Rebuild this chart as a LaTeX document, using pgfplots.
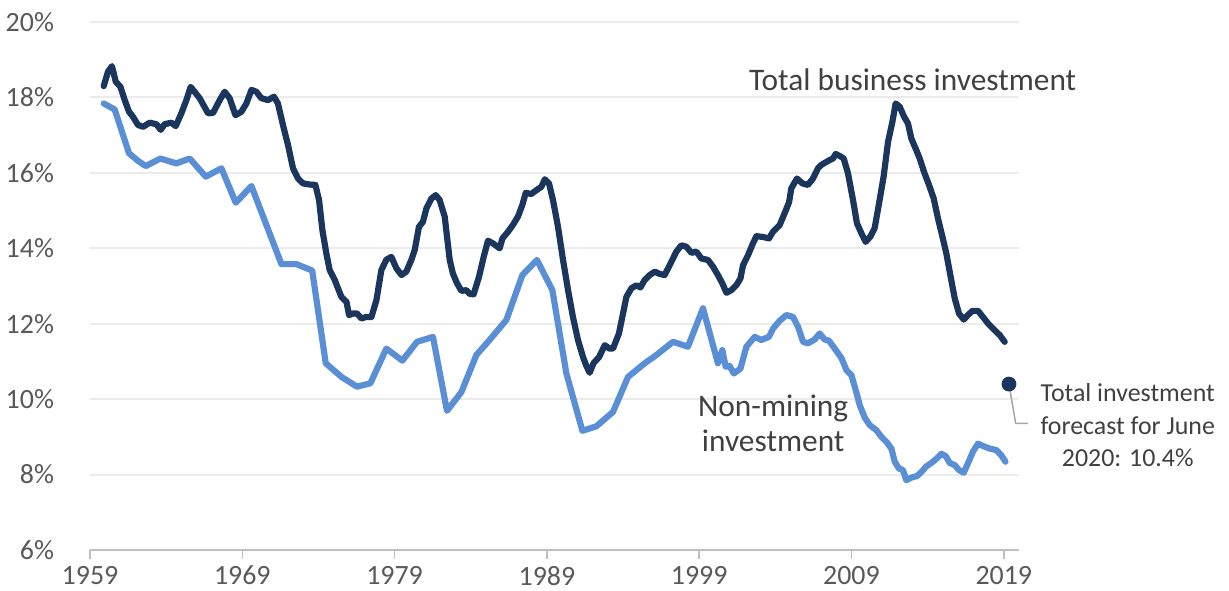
\documentclass[border=0pt]{standalone}
\usepackage{pgfplots}
\pgfplotsset{compat=1.18}
\usepackage{fontspec}
\setmainfont{Carlito}
\definecolor{navy}{HTML}{1A365D}
\definecolor{lblue}{HTML}{5A8FD6}
\definecolor{tickgray}{HTML}{595959}
\definecolor{txtgray}{HTML}{404040}
\definecolor{gridgray}{HTML}{EBEBEB}
\definecolor{axgray}{HTML}{BFBFBF}
\definecolor{leadgray}{HTML}{A6A6A6}
\begin{document}
\begin{tikzpicture}
\useasboundingbox (0,0) rectangle (614.5bp,295.5bp);
\begin{axis}[
  at={(45bp,20.5bp)}, anchor=south west,
  scale only axis, width=464.5bp, height=264bp,
  xmin=1959, xmax=2020, ymin=6, ymax=20,
  axis x line*=bottom, axis y line*=left,
  y axis line style={draw=none},
  x axis line style={axgray, line width=1bp},
  ytick style={draw=none},
  xtick style={axgray, line width=0.75bp},
  tick align=outside, major tick length=4.5bp,
  xtick={1959,1969,1979,1989,1999,2009,2019},
  ytick={6,8,10,12,14,16,18,20},
  /pgf/number format/1000 sep={},
  /pgf/number format/assume math mode=true,
  yticklabel={\pgfmathprintnumber{\tick}\%},
  tick label style={font=\fontsize{14}{16}\selectfont, text=tickgray},
  yticklabel style={xshift=-10bp},
  ymajorgrids, major grid style={gridgray, line width=1bp},
  clip=false,
]
\addplot[lblue, line width=3.1bp, line join=round, line cap=round] coordinates {
(1959.90,17.84) (1960.62,17.68) (1961.06,17.14) (1961.56,16.52) (1962.15,16.32)
(1962.66,16.18) (1963.62,16.38) (1964.67,16.25) (1965.55,16.38) (1966.60,15.90)
(1967.63,16.12) (1968.57,15.21) (1969.60,15.65) (1970.58,14.62) (1971.57,13.58)
(1972.55,13.58) (1973.59,13.41) (1974.48,10.95) (1975.51,10.59) (1976.53,10.33)
(1977.41,10.42) (1978.46,11.34) (1979.51,11.02) (1980.47,11.52) (1981.52,11.65)
(1982.44,9.69) (1983.39,10.19) (1984.37,11.17) (1985.24,11.57) (1986.34,12.10)
(1987.39,13.29) (1988.35,13.69) (1989.36,12.89) (1990.28,10.68) (1991.33,9.16)
(1992.25,9.28) (1993.34,9.66) (1994.33,10.59) (1995.42,10.95) (1996.19,11.17)
(1997.28,11.52) (1998.26,11.39) (1999.25,12.41) (2000.23,10.95) (2000.52,11.30)
(2000.74,10.86) (2001.00,10.88) (2001.27,10.68) (2001.71,10.81) (2002.10,11.39)
(2002.64,11.65) (2003.08,11.57) (2003.58,11.65) (2003.85,11.87) (2004.29,12.08)
(2004.73,12.23) (2005.16,12.18) (2005.49,11.92) (2005.82,11.52) (2006.14,11.48)
(2006.58,11.58) (2006.91,11.74) (2007.24,11.58) (2007.52,11.55) (2007.90,11.34)
(2008.34,11.09) (2008.67,10.77) (2008.99,10.64) (2009.28,10.24) (2009.54,9.84)
(2009.87,9.51) (2010.20,9.31) (2010.63,9.18) (2010.96,9.00) (2011.29,8.87)
(2011.62,8.69) (2011.84,8.34) (2012.12,8.16) (2012.38,8.12) (2012.60,7.85)
(2012.93,7.92) (2013.30,7.96) (2013.59,8.07) (2013.92,8.22) (2014.25,8.31)
(2014.58,8.42) (2014.90,8.55) (2015.19,8.49) (2015.45,8.31) (2015.78,8.25)
(2016.06,8.12) (2016.37,8.05) (2016.65,8.30) (2016.98,8.61) (2017.31,8.82)
(2017.68,8.75) (2018.07,8.69) (2018.51,8.65) (2018.84,8.51) (2019.11,8.34)
};
\addplot[navy, line width=3.1bp, line join=round, line cap=round] coordinates {
(1959.90,18.30) (1960.18,18.68) (1960.44,18.83) (1960.69,18.42) (1961.00,18.28)
(1961.28,17.93) (1961.56,17.62) (1961.82,17.49) (1962.15,17.27) (1962.48,17.22)
(1962.92,17.33) (1963.36,17.29) (1963.64,17.14) (1963.90,17.29) (1964.34,17.33)
(1964.63,17.24) (1965.00,17.58) (1965.33,17.93) (1965.61,18.28) (1966.20,17.98)
(1966.75,17.58) (1967.08,17.59) (1967.52,17.93) (1967.84,18.15) (1968.17,17.98)
(1968.55,17.53) (1968.94,17.62) (1969.27,17.84) (1969.60,18.20) (1969.93,18.15)
(1970.25,17.98) (1970.69,17.93) (1971.08,18.02) (1971.34,17.84) (1971.67,17.27)
(1972.00,16.74) (1972.33,16.12) (1972.66,15.85) (1972.99,15.72) (1973.43,15.69)
(1973.80,15.68) (1974.04,15.28) (1974.26,14.48) (1974.52,13.86) (1974.74,13.42)
(1975.07,13.16) (1975.28,12.94) (1975.51,12.71) (1975.84,12.58) (1976.01,12.23)
(1976.27,12.27) (1976.53,12.27) (1976.82,12.14) (1977.15,12.18) (1977.48,12.18)
(1977.81,12.63) (1978.13,13.42) (1978.46,13.70) (1978.79,13.77) (1979.12,13.47)
(1979.45,13.29) (1979.77,13.38) (1980.10,13.69) (1980.32,13.95) (1980.60,14.57)
(1980.86,14.70) (1981.09,15.06) (1981.42,15.32) (1981.70,15.41) (1981.96,15.28)
(1982.29,14.84) (1982.62,13.69) (1982.83,13.33) (1983.10,13.07) (1983.39,12.87)
(1983.71,12.89) (1983.93,12.79) (1984.19,12.78) (1984.54,13.24) (1984.85,13.77)
(1985.13,14.20) (1985.46,14.13) (1985.90,14.00) (1986.08,14.26) (1986.45,14.44)
(1986.77,14.62) (1987.10,14.84) (1987.39,15.15) (1987.61,15.47) (1987.98,15.44)
(1988.31,15.54) (1988.64,15.63) (1988.86,15.83) (1989.14,15.72) (1989.40,15.28)
(1989.73,14.57) (1990.06,13.69) (1990.39,12.89) (1990.71,12.18) (1991.04,11.57)
(1991.37,11.12) (1991.59,10.88) (1991.81,10.70) (1992.07,10.96) (1992.42,11.11)
(1992.80,11.43) (1993.12,11.34) (1993.34,11.34) (1993.73,11.74) (1994.00,12.27)
(1994.22,12.71) (1994.55,12.94) (1994.88,13.02) (1995.14,12.96) (1995.42,13.16)
(1995.75,13.29) (1996.08,13.38) (1996.41,13.32) (1996.73,13.29) (1997.06,13.55)
(1997.50,13.91) (1997.83,14.08) (1998.16,14.04) (1998.49,13.88) (1998.82,13.91)
(1999.14,13.73) (1999.58,13.69) (1999.91,13.51) (2000.23,13.29) (2000.52,13.07)
(2000.79,12.82) (2001.11,12.89) (2001.44,13.02) (2001.71,13.20) (2001.88,13.55)
(2002.21,13.82) (2002.53,14.13) (2002.76,14.32) (2003.19,14.30) (2003.58,14.26)
(2003.85,14.44) (2004.29,14.62) (2004.61,14.93) (2004.90,15.22) (2005.05,15.59)
(2005.42,15.85) (2005.78,15.72) (2006.14,15.68) (2006.47,15.85) (2006.80,16.12)
(2007.02,16.21) (2007.35,16.29) (2007.57,16.34) (2007.79,16.38) (2007.96,16.50)
(2008.22,16.45) (2008.49,16.38) (2008.77,15.99) (2009.10,15.28) (2009.36,14.66)
(2009.65,14.40) (2009.93,14.17) (2010.24,14.31) (2010.52,14.53) (2010.81,15.19)
(2011.11,15.90) (2011.40,16.82) (2011.69,17.36) (2011.90,17.84) (2012.17,17.75)
(2012.45,17.49) (2012.71,17.31) (2012.93,16.91) (2013.26,16.60) (2013.48,16.38)
(2013.76,16.03) (2014.09,15.68) (2014.40,15.32) (2014.68,14.79) (2014.97,14.31)
(2015.23,13.86) (2015.49,13.29) (2015.78,12.67) (2016.06,12.27) (2016.37,12.11)
(2016.65,12.23) (2016.94,12.34) (2017.31,12.34) (2017.63,12.18) (2017.96,12.01)
(2018.40,11.83) (2018.73,11.70) (2019.06,11.52)
};
\draw[leadgray, line width=0.75bp] (axis cs:2019.34,10.40) -- (axis cs:2019.78,9.36) -- (axis cs:2020.59,9.36);
\addplot[only marks, mark=*, mark size=3.5bp, navy] coordinates {(2019.34,10.40)};
\node[text=txtgray, font=\fontsize{15.75}{18}\selectfont] at (axis cs:2013.02,18.46) {Total business investment};
\node[text=txtgray, align=center, font=\fontsize{15.75}{18}\selectfont] at (axis cs:2003.86,9.36) {Non-mining\\investment};
\node[text=txtgray, align=center, font=\fontsize{13}{16.5}\selectfont] at (axis cs:2027.14,9.31) {Total investment\\forecast for June\\2020: 10.4\%};
\end{axis}
\end{tikzpicture}
\end{document}
